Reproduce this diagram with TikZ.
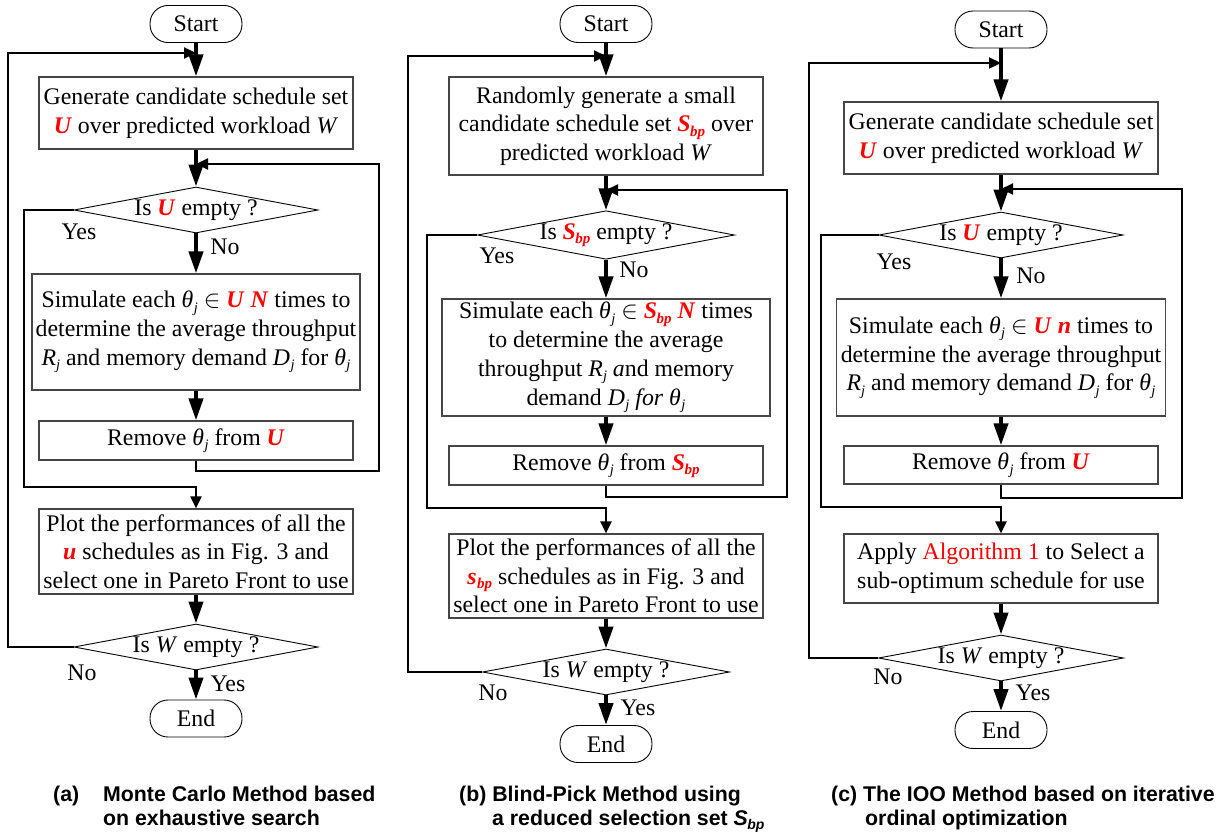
\documentclass[tikz,border=0pt]{standalone}
\usepackage{fontspec}
\setmainfont{Liberation Serif}
\newfontfamily\capfont{Liberation Sans}
\usetikzlibrary{arrows.meta,shapes.geometric}
\definecolor{redtxt}{RGB}{255,0,0}
\definecolor{boxgray}{RGB}{70,70,70}
\newcommand{\mysub}[1]{\lower4.5pt\hbox{\fontsize{14.5}{14.5}\selectfont\textit{#1}}}
\newcommand{\mysubb}[1]{\lower4.5pt\hbox{\fontsize{15}{15}\selectfont\textbf{\textit{#1}}}}
\newcommand{\thj}{\textit{θ}\kern0.5pt\mysub{j}}
\newcommand{\RU}{\textcolor{redtxt}{\textbf{\textit{U}}}}
\newcommand{\RSbp}{\textcolor{redtxt}{\textbf{\textit{S}}\kern-0.5pt\mysubb{bp}}}
\newcommand{\Rsbp}{\textcolor{redtxt}{\textbf{\textit{s}}\kern0.5pt\mysubb{bp}}}
\newcommand{\Rj}{\textit{R}\mysub{j}}
\newcommand{\Dj}{\textit{D}\kern0.5pt\mysub{j}}
\newcommand{\boxfont}{\fontsize{23.8}{28.7}\selectfont}
\newcommand{\captfont}{\capfont\bfseries\fontsize{21.3}{24}\selectfont}
\tikzset{
  term/.style={draw=black, line width=0.9pt, rounded corners=18pt, minimum width=92pt, minimum height=37pt, inner sep=0pt, font=\boxfont},
  procbox/.style={draw=boxgray, line width=1.2pt, inner sep=0pt, align=center, font=\boxfont},
  decide/.style={diamond, draw=black, line width=0.9pt, aspect=5.3, inner sep=0pt, font=\boxfont},
  mainarrow/.style={line width=4pt, -{Triangle[length=22pt,width=14pt]}},
  loopline/.style={line width=2.2pt, line join=miter},
  loopin/.style={loopline, -{Triangle[length=12pt,width=11pt]}},
  lbl/.style={font=\boxfont, inner sep=0pt},
  capt/.style={font=\captfont, inner sep=0pt, anchor=base west}
}
\begin{document}
\begin{tikzpicture}[x=1pt,y=-1pt]
\useasboundingbox (0,0) rectangle (1226,835);

% ================= Panel (a) =================
\node[term] (astart) at (196,24) {Start};
\node[procbox, minimum width=314pt, minimum height=72pt] (a1) at (196,113)
  {Generate candidate schedule set\\\RU{} over predicted workload \textit{W}};
\node[decide, minimum width=244pt, minimum height=46pt] (ad1) at (196,210) {Is \RU{} empty ?};
\node[procbox, minimum width=328pt, minimum height=116pt] (a2) at (196,332)
  {Simulate each \thj{} $\in$ \RU{} \textcolor{redtxt}{\textbf{\textit{N}}} times to\\determine the average throughput\\\Rj{} and memory demand \Dj{} for \thj};
\node[procbox, minimum width=314pt, minimum height=39pt] (a3) at (196,440.5) {Remove \thj{} from \RU};
\node[procbox, minimum width=314pt, minimum height=85pt] (a4) at (196,551.5)
  {Plot the performances of all the\\\textcolor{redtxt}{\textbf{\textit{u}}} schedules as in Fig. 3 and\\select one in Pareto Front to use};
\node[decide, minimum width=244pt, minimum height=46pt] (ad2) at (196,647) {Is \textit{W} empty ?};
\node[term] (aend) at (196,718.5) {End};

\coordinate (aL) at (8,53);
\coordinate (aR) at (379,164);
\coordinate (aY) at (24,487);
\draw[mainarrow] (astart.south) -- (a1.north);
\draw[mainarrow] (a1.south) -- (ad1.north);
\draw[mainarrow] (ad1.south) -- (a2.north);
\draw[mainarrow] (a2.south) -- (a3.north);
\draw[mainarrow] (a4.south) -- (ad2.north);
\draw[mainarrow] (ad2.south) -- (aend.north);
\draw[loopin] (ad2.west) -| (aL) -- (aL -| a1.north);
\draw[loopin] (a3.south) -- ++(0,10) -| (aR) -- (aR -| ad1.north);
\draw[loopin] (ad1.west) -| (aY) -- (aY -| a4.north) -- (a4.north);
\node[lbl] (ay1) at (79,232) {Yes};
\node[lbl] (an1) at (225,247) {No};
\node[lbl] (an2) at (82,673) {No};
\node[lbl] (ay2) at (228,684) {Yes};
\node[capt] (acap0) at (53,801.5) {(a)};
\node[capt] (acap1) at (103,801.5) {Monte Carlo Method based};
\node[capt] (acap2) at (103,825.5) {on exhaustive search};

% ================= Panel (b) =================
\node[term] (bstart) at (606,24) {Start};
\node[procbox, minimum width=314pt, minimum height=98pt] (b1) at (606,126)
  {Randomly generate a small\\candidate schedule set \RSbp{} over\\predicted workload \textit{W}};
\node[decide, minimum width=247pt, minimum height=46pt] (bd1) at (606,235) {Is \RSbp{} empty ?};
\node[procbox, minimum width=328pt, minimum height=117pt] (b2) at (606,357.5)
  {Simulate each \thj{} $\in$ \RSbp{} \textcolor{redtxt}{\textbf{\textit{N}}} times\\to determine the average\\throughput \Rj{} \textit{a}nd memory\\demand \Dj{} \textit{for} \thj};
\node[procbox, minimum width=314pt, minimum height=39pt] (b3) at (606,465.5) {Remove \thj{} from \RSbp};
\node[procbox, minimum width=314pt, minimum height=84pt] (b4) at (606,576)
  {Plot the performances of all the\\\Rsbp{} schedules as in Fig. 3 and\\select one in Pareto Front to use};
\node[decide, minimum width=247pt, minimum height=46pt] (bd2) at (606,672) {Is \textit{W} empty ?};
\node[term] (bend) at (606,744) {End};

\coordinate (bL) at (408,56);
\coordinate (bR) at (787,190);
\coordinate (bY) at (427,508);
\draw[mainarrow] (bstart.south) -- (b1.north);
\draw[mainarrow] (b1.south) -- (bd1.north);
\draw[mainarrow] (bd1.south) -- (b2.north);
\draw[mainarrow] (b2.south) -- (b3.north);
\draw[mainarrow] (b4.south) -- (bd2.north);
\draw[mainarrow] (bd2.south) -- (bend.north);
\draw[loopin] (bd2.west) -| (bL) -- (bL -| b1.north);
\draw[loopin] (b3.south) -- ++(0,11.5) -| (bR) -- (bR -| bd1.north);
\draw[loopin] (bd1.west) -| (bY) -- (bY -| b4.north) -- (b4.north);
\node[lbl] (by1) at (497,256) {Yes};
\node[lbl] (bn1) at (634,270) {No};
\node[lbl] (bn2) at (493,693) {No};
\node[lbl] (by2) at (638,708) {Yes};
\node[capt] (bcap1) at (459,801.5) {(b) Blind-Pick Method using};
\node[capt] (bcap2) at (492,825.5) {a reduced selection set \textit{S}\kern-0.5pt\lower3.5pt\hbox{\fontsize{14}{14}\selectfont\textit{bp}}};

% ================= Panel (c) =================
\node[term] (cstart) at (1001,29.5) {Start};
\node[procbox, minimum width=314pt, minimum height=72pt] (c1) at (1001,138)
  {Generate candidate schedule set\\\RU{} over predicted workload \textit{W}};
\node[decide, minimum width=244pt, minimum height=46pt] (cd1) at (1001,235) {Is \RU{} empty ?};
\node[procbox, minimum width=329pt, minimum height=117pt] (c2) at (1001,357.5)
  {Simulate each \thj{} $\in$ \RU{} \textcolor{redtxt}{\textbf{\textit{n}}} times to\\determine the average throughput\\\Rj{} and memory demand \Dj{} for \thj};
\node[procbox, minimum width=314pt, minimum height=38pt] (c3) at (1001,465) {Remove \thj{} from \RU};
\node[procbox, minimum width=314pt, minimum height=69pt] (c4) at (1001,568.5)
  {Apply \textcolor{redtxt}{Algorithm 1} to Select a\\sub-optimum schedule for use};
\node[decide, minimum width=245pt, minimum height=46pt] (cd2) at (1001,658) {Is \textit{W} empty ?};
\node[term] (cend) at (1001,730) {End};

\coordinate (cL) at (809,63);
\coordinate (cR) at (1182,189);
\coordinate (cY) at (821,507);
\draw[mainarrow] (cstart.south) -- (c1.north);
\draw[mainarrow] (c1.south) -- (cd1.north);
\draw[mainarrow] (cd1.south) -- (c2.north);
\draw[mainarrow] (c2.south) -- (c3.north);
\draw[mainarrow] (c4.south) -- (cd2.north);
\draw[mainarrow] (cd2.south) -- (cend.north);
\draw[loopin] (cd2.west) -| (cL) -- (cL -| c1.north);
\draw[loopin] (c3.south) -- ++(0,13) -| (cR) -- (cR -| cd1.north);
\draw[loopin] (cd1.west) -| (cY) -- (cY -| c4.north) -- (c4.north);
\node[lbl] (cy1) at (894,262) {Yes};
\node[lbl] (cn1) at (1031,276) {No};
\node[lbl] (cn2) at (888,677) {No};
\node[lbl] (cy2) at (1033,693) {Yes};
\node[capt] (ccap1) at (831,801.5) {(c) The IOO Method based on iterative};
\node[capt] (ccap2) at (865,825.5) {ordinal optimization};
\end{tikzpicture}
\end{document}
